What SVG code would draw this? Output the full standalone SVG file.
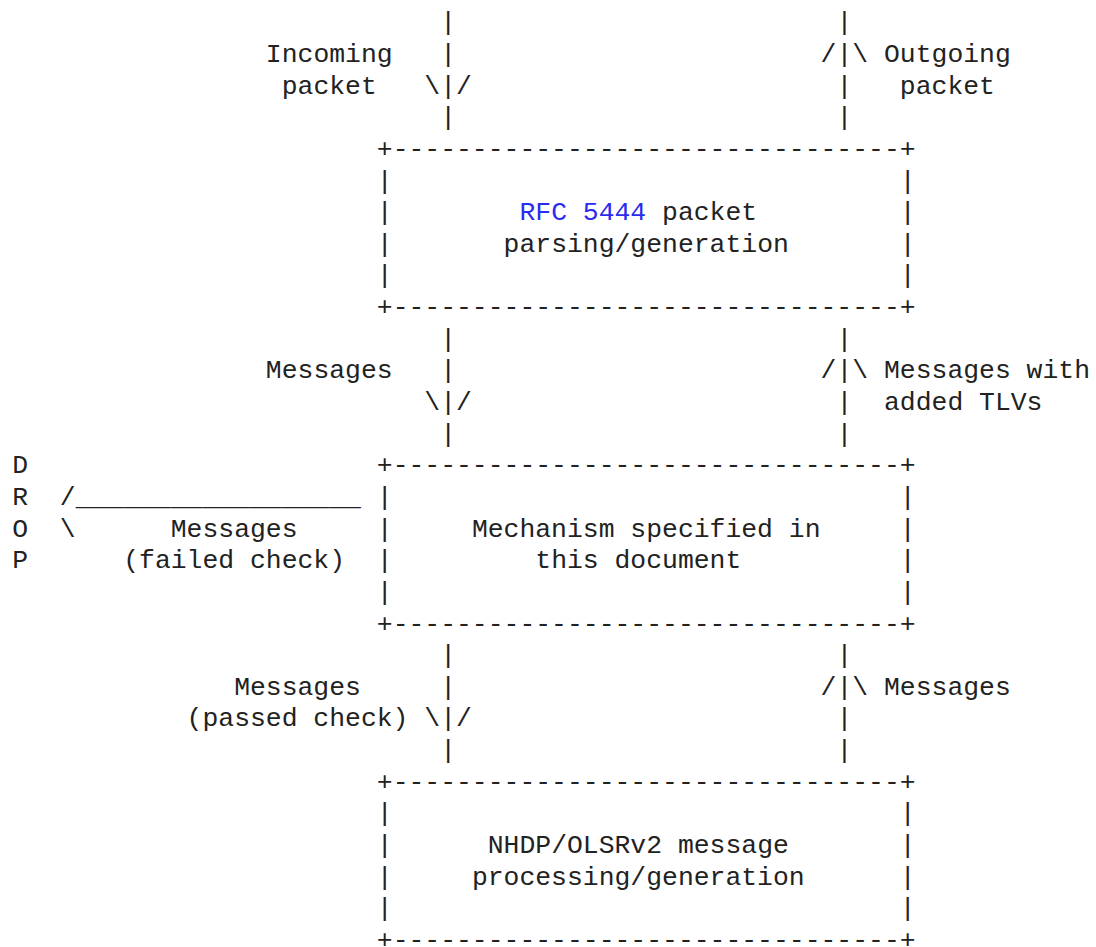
<svg xmlns="http://www.w3.org/2000/svg" width="1096" height="947" viewBox="0 0 1096 947">
<style>
  text { font-family: "Liberation Mono", "Courier New", monospace; font-size: 26.42px; fill: #222; white-space: pre; }
  .link { fill: #2b2bf0; }
</style>
<rect width="1096" height="947" fill="#ffffff"/>

<g id="node-rfc5444">
  <text x="376.8" y="156.92">+--------------------------------+</text>
  <text x="376.8" y="188.56">|</text><text x="899.85" y="188.56">|</text>
  <text x="376.8" y="220.2">|</text><text x="899.85" y="220.2">|</text>
  <text x="376.8" y="251.84">|</text><text x="899.85" y="251.84">|</text>
  <text x="376.8" y="283.48">|</text><text x="899.85" y="283.48">|</text>
  <text x="376.8" y="315.12">+--------------------------------+</text>
  <text x="519.45" y="220.2"><tspan class="link">RFC 5444</tspan> packet</text>
  <text x="503.6" y="251.84">parsing/generation</text>
</g>

<g id="node-mechanism">
  <text x="376.8" y="473.32">+--------------------------------+</text>
  <text x="376.8" y="504.96">|</text><text x="899.85" y="504.96">|</text>
  <text x="376.8" y="536.6">|</text><text x="899.85" y="536.6">|</text>
  <text x="376.8" y="568.24">|</text><text x="899.85" y="568.24">|</text>
  <text x="376.8" y="599.88">|</text><text x="899.85" y="599.88">|</text>
  <text x="376.8" y="631.52">+--------------------------------+</text>
  <text x="471.9" y="536.6">Mechanism specified in</text>
  <text x="535.3" y="568.24">this document</text>
</g>

<g id="node-nhdp">
  <text x="376.8" y="789.72">+--------------------------------+</text>
  <text x="376.8" y="821.36">|</text><text x="899.85" y="821.36">|</text>
  <text x="376.8" y="853">|</text><text x="899.85" y="853">|</text>
  <text x="376.8" y="884.64">|</text><text x="899.85" y="884.64">|</text>
  <text x="376.8" y="916.28">|</text><text x="899.85" y="916.28">|</text>
  <text x="376.8" y="947.92">+--------------------------------+</text>
  <text x="487.75" y="853">NHDP/OLSRv2 message</text>
  <text x="471.9" y="884.64">processing/generation</text>
</g>

<g id="node-drop">
  <text x="12.25" y="473.32">D</text>
  <text x="12.25" y="504.96">R</text>
  <text x="12.25" y="536.6">O</text>
  <text x="12.25" y="568.24">P</text>
</g>

<g id="connectors">
  <!-- incoming packet -> RFC 5444 -->
  <text x="440.2" y="30.36">|</text>
  <text x="440.2" y="62">|</text>
  <text x="424.35" y="93.64">\|/</text>
  <text x="440.2" y="125.28">|</text>
  <!-- RFC 5444 -> outgoing packet -->
  <text x="836.45" y="30.36">|</text>
  <text x="820.6" y="62">/|\</text>
  <text x="836.45" y="93.64">|</text>
  <text x="836.45" y="125.28">|</text>
  <!-- RFC 5444 -> mechanism -->
  <text x="440.2" y="346.76">|</text>
  <text x="440.2" y="378.4">|</text>
  <text x="424.35" y="410.04">\|/</text>
  <text x="440.2" y="441.68">|</text>
  <!-- mechanism -> RFC 5444 -->
  <text x="836.45" y="346.76">|</text>
  <text x="820.6" y="378.4">/|\</text>
  <text x="836.45" y="410.04">|</text>
  <text x="836.45" y="441.68">|</text>
  <!-- mechanism -> drop -->
  <text x="59.8" y="504.96">/__________________</text>
  <text x="59.8" y="536.6">\</text>
  <!-- mechanism -> NHDP -->
  <text x="440.2" y="663.16">|</text>
  <text x="440.2" y="694.8">|</text>
  <text x="424.35" y="726.44">\|/</text>
  <text x="440.2" y="758.08">|</text>
  <!-- NHDP -> mechanism -->
  <text x="836.45" y="663.16">|</text>
  <text x="820.6" y="694.8">/|\</text>
  <text x="836.45" y="726.44">|</text>
  <text x="836.45" y="758.08">|</text>
</g>

<g id="labels">
  <text x="265.85" y="62">Incoming</text>
  <text x="281.7" y="93.64">packet</text>
  <text x="884" y="62">Outgoing</text>
  <text x="899.85" y="93.64">packet</text>
  <text x="265.85" y="378.4">Messages</text>
  <text x="884" y="378.4">Messages with</text>
  <text x="884" y="410.04">added TLVs</text>
  <text x="170.75" y="536.6">Messages</text>
  <text x="123.2" y="568.24">(failed check)</text>
  <text x="234.15" y="694.8">Messages</text>
  <text x="186.6" y="726.44">(passed check)</text>
  <text x="884" y="694.8">Messages</text>
</g>
</svg>
